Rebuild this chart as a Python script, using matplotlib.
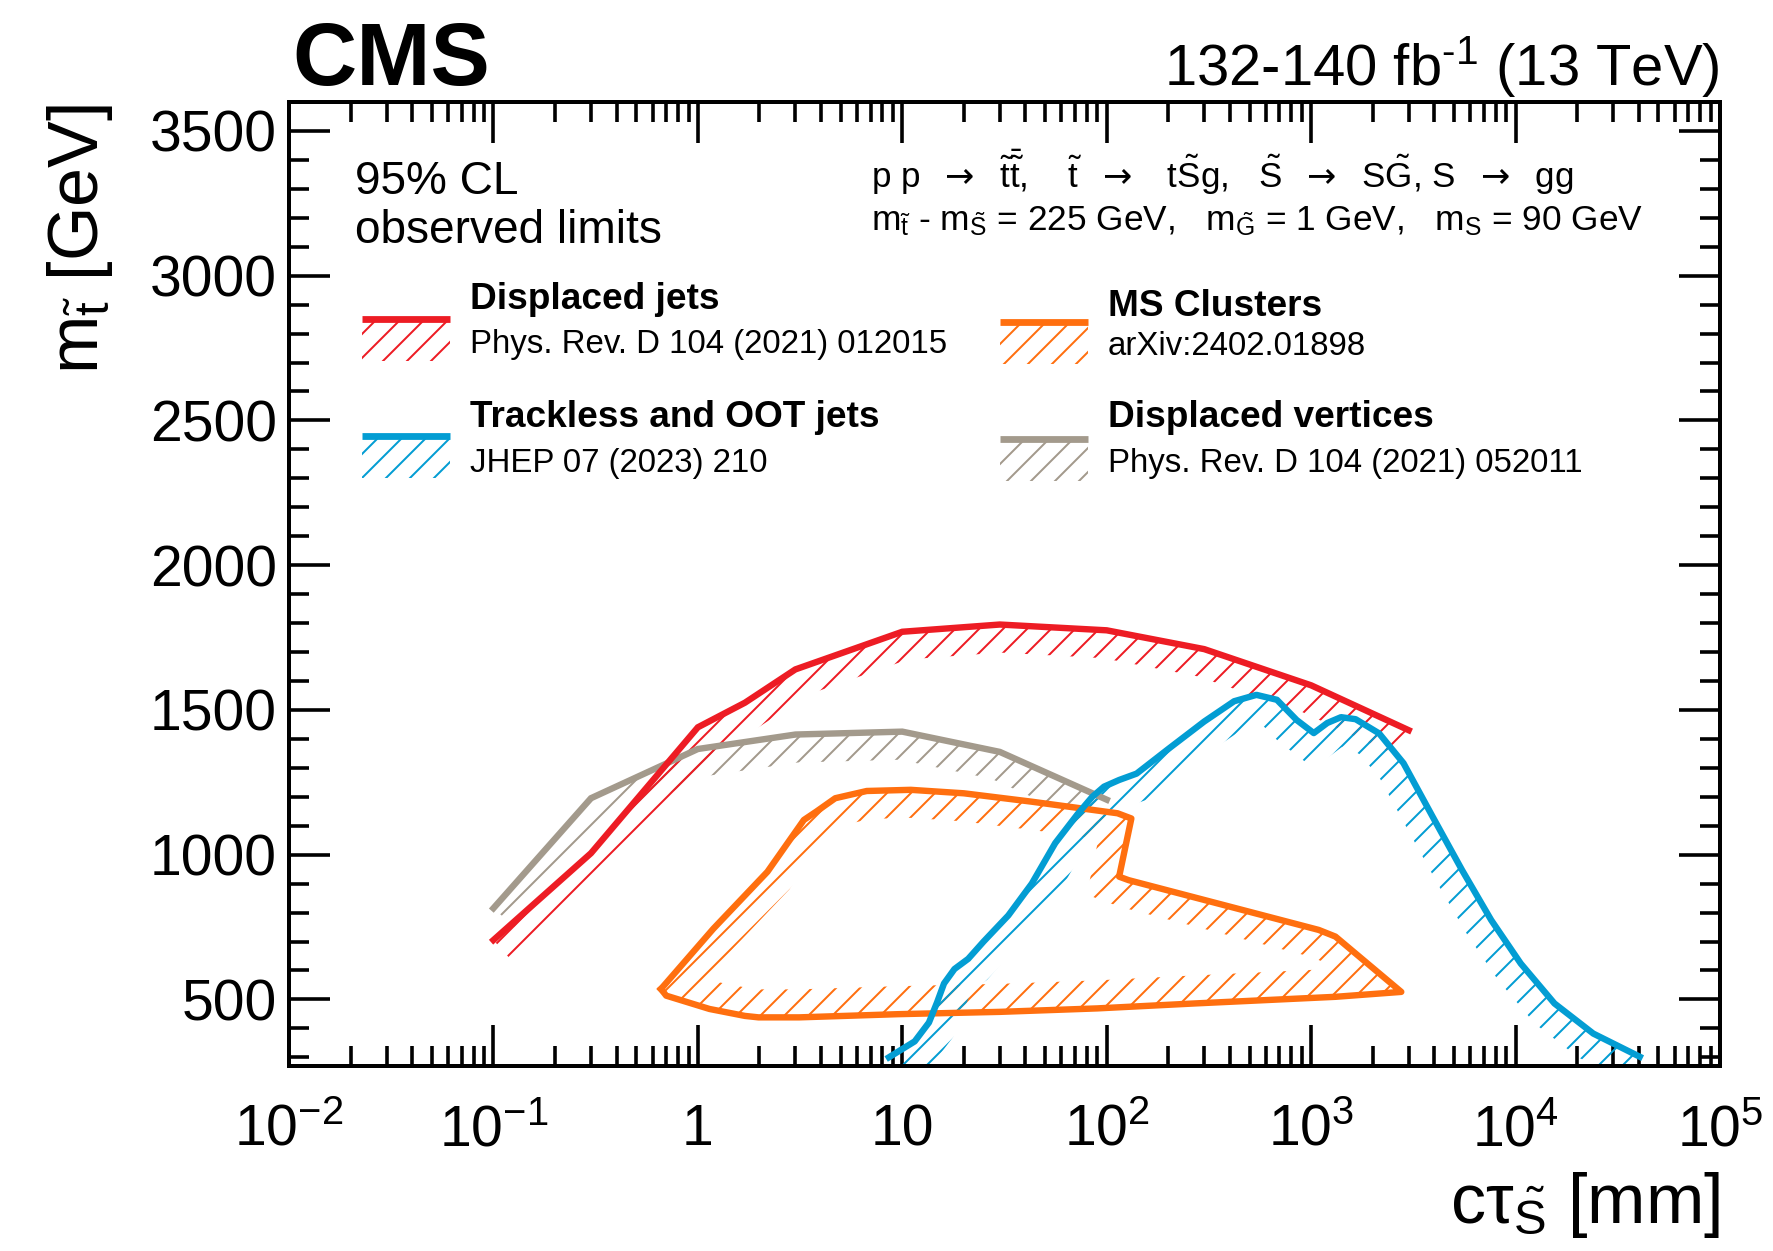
import numpy as np
import matplotlib
matplotlib.use("Agg")
import matplotlib.pyplot as plt
from matplotlib.patches import Polygon, Rectangle
from matplotlib.lines import Line2D
from matplotlib.ticker import FixedLocator, LogLocator, MultipleLocator, NullFormatter

# ---------------- data ----------------
dj_ctau = [0.1, 0.3, 1, 1.7, 3, 10, 30, 100, 300, 1000, 3000]
dj_mass = [705, 1005, 1440, 1525, 1640, 1770, 1795, 1775, 1710, 1585, 1430]

dv_ctau = [0.1, 0.3, 1, 3, 10, 30, 100]
dv_mass = [815, 1195, 1365, 1415, 1425, 1355, 1190]

oot_ctau = [8.6, 11.5, 13.5, 14.8, 16.0, 18.0, 21.0, 25.0, 33.0, 43.0, 56.0, 72.0,
            85.0, 97.0, 115.0, 140.0, 200.0, 300.0, 420.0, 540.0, 680.0, 850.0,
            1030.0, 1200.0, 1400.0, 1650.0, 2150.0, 2830.0, 3930.0, 5470.0,
            7600.0, 10600.0, 15500.0, 24000.0, 40500.0]
oot_mass = [300, 355, 420, 490, 555, 605, 640, 700, 790, 900, 1040, 1140,
            1200, 1235, 1258, 1280, 1365, 1460, 1530, 1552, 1535, 1465,
            1420, 1455, 1475, 1468, 1419, 1316, 1131, 947,
            774, 624, 486, 382, 302]

ms_ctau = [0.66, 1.19, 2.19, 3.3, 3.8, 4.7, 6.7, 11, 20, 43, 113, 132, 115, 128,
           1090, 1315, 2760, 1315, 268, 90, 30, 9.5, 3.13, 1.98, 1.70, 1.14, 0.70, 0.66]
ms_mass = [536, 744, 941, 1120, 1149, 1195, 1220, 1224, 1212, 1183, 1143, 1125, 924, 912,
           740, 717, 526, 509, 486, 469, 457, 449, 438, 438, 443, 467, 513, 536]

xtick_vals = [1e-2, 1e-1, 1, 10, 1e2, 1e3, 1e4, 1e5]
xtick_labels = [r"$10^{-2}$", r"$10^{-1}$", "1", "10", r"$10^{2}$", r"$10^{3}$", r"$10^{4}$", r"$10^{5}$"]
ytick_vals = [500, 1000, 1500, 2000, 2500, 3000, 3500]

legend_titles = ["Displaced jets", "Trackless and OOT jets", "MS Clusters", "Displaced vertices"]
legend_refs = ["Phys. Rev. D 104 (2021) 012015", "JHEP 07 (2023) 210",
               "arXiv:2402.01898", "Phys. Rev. D 104 (2021) 052011"]

RED = "#ed1c24"
BLUE = "#039dd3"
ORANGE = "#ff6f0f"
GRAY = "#a39a8c"

# ---------------- style ----------------
plt.rcParams["font.family"] = ["Liberation Sans", "DejaVu Sans"]
plt.rcParams["mathtext.fontset"] = "custom"
plt.rcParams["mathtext.rm"] = "Liberation Sans"
plt.rcParams["mathtext.it"] = "Liberation Sans:italic"
plt.rcParams["mathtext.bf"] = "Liberation Sans:bold"
plt.rcParams["mathtext.sf"] = "DejaVu Sans"
plt.rcParams["mathtext.default"] = "regular"
plt.rcParams["hatch.linewidth"] = 1.0

W, H, DPI = 1773, 1251, 144
fig = plt.figure(figsize=(W / DPI, H / DPI), dpi=DPI)

AX_L, AX_R, AX_T, AX_B = 289, 1720, 102, 1066
ax = fig.add_axes([AX_L / W, 1 - AX_B / H, (AX_R - AX_L) / W, (AX_B - AX_T) / H])
ax.set_xscale("log")
ax.set_xlim(1e-2, 1e5)
ax.set_ylim(270, 3600)

for s in ax.spines.values():
    s.set_linewidth(2.0)

ax.xaxis.set_major_locator(FixedLocator(xtick_vals))
ax.set_xticklabels(xtick_labels)
ax.xaxis.set_minor_locator(LogLocator(base=10, subs=np.arange(2, 10)))
ax.xaxis.set_minor_formatter(NullFormatter())
ax.yaxis.set_major_locator(FixedLocator(ytick_vals))
ax.yaxis.set_minor_locator(MultipleLocator(100))

ax.tick_params(which="both", direction="in", top=True, right=True, width=1.8)
ax.tick_params(which="major", length=20.5)
ax.tick_params(which="minor", length=10)
ax.tick_params(axis="y", which="major", labelsize=28.5, pad=6)
ax.tick_params(axis="x", which="major", labelsize=28.5, pad=39.5)
for lbl in ax.get_xticklabels():
    lbl.set_verticalalignment("baseline")

HATCH = "//"


def fx(px):
    return px / W


def fy(py):
    return 1 - py / H


def hatch_band(xs, ys, color, width_px=28.0, closed=False, z=2):
    pts = ax.transData.transform(np.column_stack([xs, ys]))
    if closed:
        core = pts[:-1]
        prev_pts = np.roll(core, 1, axis=0)
        next_pts = np.roll(core, -1, axis=0)
    else:
        core = pts
        prev_pts = np.vstack([core[0:1] - (core[1] - core[0]), core[:-1]])
        next_pts = np.vstack([core[1:], core[-1:] + (core[-1] - core[-2])])
    d1 = core - prev_pts
    d2 = next_pts - core
    n1 = np.column_stack([d1[:, 1], -d1[:, 0]]) / np.hypot(d1[:, 0], d1[:, 1])[:, None]
    n2 = np.column_stack([d2[:, 1], -d2[:, 0]]) / np.hypot(d2[:, 0], d2[:, 1])[:, None]
    m = n1 + n2
    mlen = np.hypot(m[:, 0], m[:, 1])
    mlen[mlen < 1e-9] = 1e-9
    m = m / mlen[:, None]
    cosang = np.clip((m * n1).sum(axis=1), 0.35, 1.0)
    off = core + m * (width_px / cosang)[:, None]
    inv = ax.transData.inverted()
    core_d = inv.transform(core)
    off_d = inv.transform(off)
    if closed:
        verts = np.vstack([core_d, core_d[:1], off_d[:1], off_d[::-1]])
    else:
        verts = np.vstack([core_d, off_d[::-1]])
    poly = Polygon(verts, closed=True, fill=False, hatch=HATCH, edgecolor=color,
                   linewidth=0, zorder=z)
    ax.add_patch(poly)


LW = 3.2
# gray: displaced vertices
ax.plot(dv_ctau, dv_mass, color=GRAY, lw=LW, zorder=3, solid_joinstyle="miter")
hatch_band(dv_ctau, dv_mass, GRAY, z=2)
# orange: MS clusters (closed contour)
ax.plot(ms_ctau, ms_mass, color=ORANGE, lw=LW, zorder=4, solid_joinstyle="round")
hatch_band(ms_ctau, ms_mass, ORANGE, closed=True, z=2)
# red: displaced jets
ax.plot(dj_ctau, dj_mass, color=RED, lw=LW, zorder=5, solid_joinstyle="miter")
hatch_band(dj_ctau, dj_mass, RED, z=2)
# blue: trackless and OOT jets
ax.plot(oot_ctau, oot_mass, color=BLUE, lw=LW, zorder=6, solid_joinstyle="round")
hatch_band(oot_ctau, oot_mass, BLUE, z=2)

# ---------------- texts ----------------
fig.text(fx(292), fy(85), "CMS", fontsize=44.5, fontweight="bold", ha="left", va="baseline")
fig.text(fx(1720), fy(85), r"132-140 fb$^{\text{-}1}$ (13 TeV)", fontsize=29, ha="right", va="baseline")

fig.text(fx(98), fy(104), r"m$_{\tilde{t}}$ [GeV]", fontsize=35, rotation=90,
         rotation_mode="anchor", ha="right", va="baseline")
fig.text(fx(1720), fy(1223), r"c$\tau_{\tilde{S}}$ [mm]", fontsize=35, ha="right", va="baseline")

fig.text(fx(355), fy(194), "95% CL", fontsize=23, ha="left", va="baseline")
fig.text(fx(355), fy(243), "observed limits", fontsize=23, ha="left", va="baseline")

ARR = r"$\mathsf{\rightarrow}$"
fig.text(fx(871), fy(188),
         "p p  " + ARR + r"  $\tilde{t}\bar{\tilde{t}}$,    $\tilde{t}$  " + ARR
         + r"   t$\tilde{S}$g,   $\tilde{S}$  " + ARR + r"  S$\tilde{G}$, S  " + ARR + "  gg",
         fontsize=17.5, ha="left", va="baseline")
fig.text(fx(871), fy(230),
         r"m$_{\tilde{t}}$ - m$_{\tilde{S}}$ = 225 GeV,   m$_{\tilde{G}}$ = 1 GeV,   m$_{S}$ = 90 GeV",
         fontsize=17.6, ha="left", va="baseline")

# ---------------- legend ----------------
leg_colors = [RED, BLUE, ORANGE, GRAY]
sym_x = [362, 362, 1000, 1000]
txt_x = [470, 470, 1108, 1108]
line_y = [319, 436, 322, 439]
title_base = [309, 427, 316, 427]
ref_base = [353, 472, 355, 472]
for i in range(4):
    x0, x1 = fx(sym_x[i]), fx(sym_x[i] + 88)
    fig.add_artist(Line2D([x0, x1], [fy(line_y[i]), fy(line_y[i])], color=leg_colors[i],
                          lw=3.4, transform=fig.transFigure, solid_capstyle="butt"))
    rect = Rectangle((x0, fy(line_y[i] + 42)), x1 - x0, fy(line_y[i] + 3) - fy(line_y[i] + 42),
                     transform=fig.transFigure, fill=False, hatch=HATCH, edgecolor=leg_colors[i],
                     linewidth=0)
    fig.add_artist(rect)
    fig.text(fx(txt_x[i]), fy(title_base[i]), legend_titles[i], fontsize=18.5,
             fontweight="bold", ha="left", va="baseline")
    fig.text(fx(txt_x[i]), fy(ref_base[i]), legend_refs[i], fontsize=16.5,
             ha="left", va="baseline")

fig.savefig("out.png", dpi=DPI)
